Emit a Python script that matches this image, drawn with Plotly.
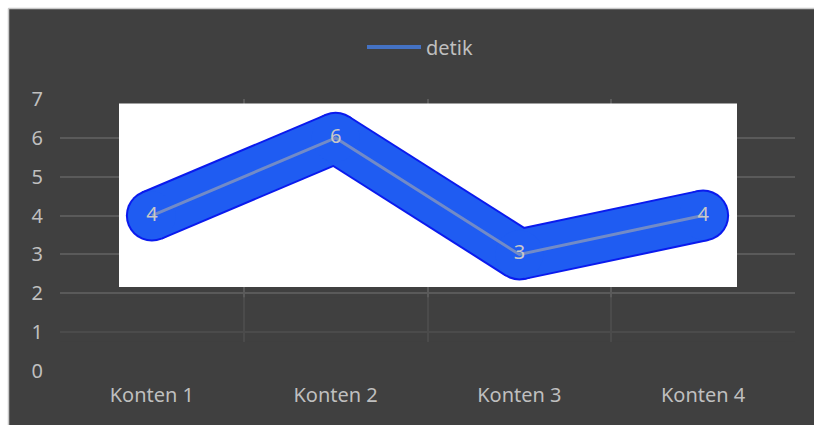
import plotly.graph_objects as go

categories = ["Konten 1", "Konten 2", "Konten 3", "Konten 4"]
detik = [4, 6, 3, 4]
y_ticks = [0, 1, 2, 3, 4, 5, 6, 7]
series_name = "detik"

W, H = 814, 425
ML, MR, MT, MB = 60, 19, 99, 54
PW, PH = W - ML - MR, H - MT - MB
Y_MAX = 7
N = len(categories)

def px_x(p):
    return (p - ML) / PW

def px_y(p):
    return (H - MB - p) / PH

def dx(p):  # pixel -> category-axis data x
    return -0.5 + (p - ML) / PW * N

def dy(p):  # pixel -> value-axis data y
    return Y_MAX * (H - MB - p) / PH

BG = "#404040"
GRID = "#5A5A5A"
TXT = "#BFBFBF"

# split the series into separate segments so joins are not mitered
seg_x, seg_y = [], []
for i in range(N - 1):
    seg_x += [categories[i], categories[i + 1], None]
    seg_y += [detik[i], detik[i + 1], None]

fig = go.Figure()

for color, w in (("#0A1AEE", 52), ("#1F5CF2", 48)):
    fig.add_trace(go.Scatter(
        x=seg_x, y=seg_y, mode="lines", connectgaps=False,
        line=dict(color=color, width=w),
        showlegend=False, hoverinfo="skip"))
    fig.add_trace(go.Scatter(
        x=categories, y=detik, mode="markers",
        marker=dict(size=w, color=color, line=dict(width=0)),
        showlegend=False, hoverinfo="skip"))

fig.add_trace(go.Scatter(
    x=categories, y=detik, mode="lines+text",
    line=dict(color="rgba(170,170,170,0.6)", width=3),
    text=[str(v) for v in detik], textposition="middle center",
    textfont=dict(size=20, color="#C8C8C8", family="Noto Sans"),
    showlegend=False, hoverinfo="skip"))
fig.add_trace(go.Scatter(
    x=[None], y=[None], mode="lines", name=series_name,
    line=dict(color="#4472C4", width=4)))

shapes = [
    dict(type="rect", xref="x", yref="y",
         x0=dx(119), x1=dx(737), y0=dy(287), y1=dy(103.5),
         fillcolor="white", line=dict(width=0), layer="between"),
    dict(type="rect", xref="x", yref="y",
         x0=-0.55, x1=3.55, y0=-0.05, y1=0.75,
         fillcolor=BG, line=dict(width=0), layer="between"),
    dict(type="rect", xref="x", yref="y",
         x0=-0.55, x1=3.55, y0=0.75, y1=1.9,
         fillcolor=BG, opacity=0.55, line=dict(width=0), layer="between"),
    dict(type="rect", xref="paper", yref="paper",
         x0=px_x(-10), x1=px_x(8.5), y0=px_y(440), y1=px_y(-10),
         fillcolor="white", line=dict(width=0), layer="above"),
    dict(type="rect", xref="paper", yref="paper",
         x0=px_x(-10), x1=px_x(830), y0=px_y(8.5), y1=px_y(-10),
         fillcolor="white", line=dict(width=0), layer="above"),
    dict(type="line", xref="paper", yref="paper",
         x0=px_x(8.5), x1=px_x(8.5), y0=px_y(440), y1=px_y(8.5),
         line=dict(color="#C8C8C8", width=1.5), layer="above"),
    dict(type="line", xref="paper", yref="paper",
         x0=px_x(8.5), x1=px_x(830), y0=px_y(8.5), y1=px_y(8.5),
         line=dict(color="#C8C8C8", width=1.5), layer="above"),
    # lengthen legend swatch
    dict(type="line", xref="paper", yref="paper",
         x0=px_x(367), x1=px_x(395), y0=px_y(47), y1=px_y(47),
         line=dict(color="#4472C4", width=4), layer="above"),
]

fig.update_layout(
    width=W, height=H,
    margin=dict(l=ML, r=MR, t=MT, b=MB, pad=0),
    paper_bgcolor=BG, plot_bgcolor=BG,
    font=dict(family="Noto Sans", size=20, color=TXT),
    showlegend=True,
    legend=dict(orientation="h", x=px_x(386), xanchor="left",
                y=px_y(47), yanchor="middle",
                bgcolor="rgba(0,0,0,0)", font=dict(size=20, color=TXT)),
    shapes=shapes,
    hovermode=False,
)
fig.update_xaxes(
    type="category", categoryorder="array", categoryarray=categories,
    range=[-0.5, N - 0.5], tickson="boundaries", showgrid=True,
    gridcolor=GRID, gridwidth=1.5, ticks="", showline=False,
    zeroline=False, ticklabelstandoff=10,
    tickfont=dict(size=20, color=TXT))
fig.update_yaxes(
    range=[0, Y_MAX], tickvals=y_ticks, showgrid=True, gridcolor=GRID,
    gridwidth=1.5, ticks="", showline=False, zeroline=False,
    ticklabelstandoff=16, tickfont=dict(size=20, color=TXT))

fig.write_html("out.html")
